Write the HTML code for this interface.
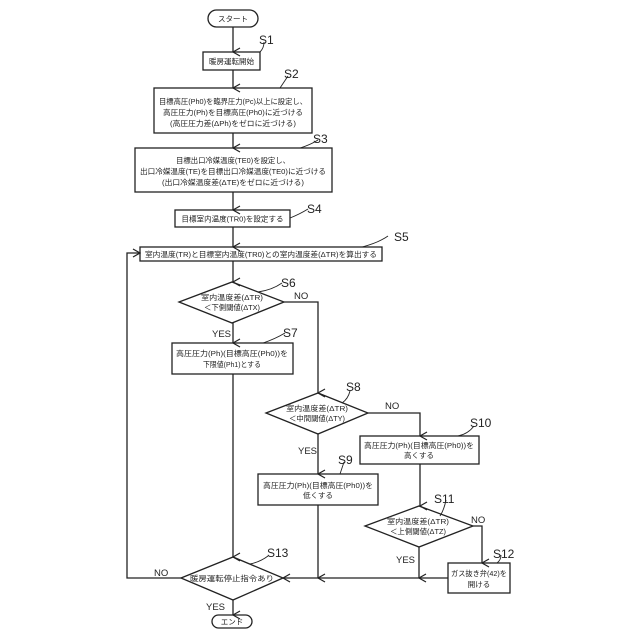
<!DOCTYPE html>
<html><head><meta charset="utf-8"><style>
html,body{margin:0;padding:0;background:#fff}
svg{display:block}
text{font-family:"Liberation Sans","Noto Sans CJK JP",sans-serif;fill:#222}
.t{font-size:7.5px;text-anchor:middle}
.s{font-size:12px}
.y{font-size:9.5px}
</style></head><body>
<svg width="640" height="640" viewBox="0 0 640 640" xmlns="http://www.w3.org/2000/svg">
<defs>
<marker id="a" markerWidth="10" markerHeight="10" refX="5" refY="9" orient="auto" markerUnits="userSpaceOnUse" viewBox="0 0 10 10">
<polyline points="1,2 5,9 9,2" fill="none" stroke="#222" stroke-width="1.2"/>
</marker>
<marker id="r" markerWidth="10" markerHeight="10" refX="9" refY="5" orient="0" markerUnits="userSpaceOnUse" viewBox="0 0 10 10">
<polyline points="2,1 9,5 2,9" fill="none" stroke="#222" stroke-width="1.2"/>
</marker>
<marker id="l" markerWidth="10" markerHeight="10" refX="1" refY="5" orient="0" markerUnits="userSpaceOnUse" viewBox="0 0 10 10">
<polyline points="8,1 1,5 8,9" fill="none" stroke="#222" stroke-width="1.2"/>
</marker>
</defs>
<g fill="none" stroke="#222" stroke-width="1.3">
<!-- shapes -->
<rect x="208" y="10" width="50" height="17" rx="8.5" fill="#fff"/>
<rect x="203" y="52" width="57" height="18" fill="#fff"/>
<rect x="154" y="88" width="158" height="45" fill="#fff"/>
<rect x="135" y="148" width="197" height="44" fill="#fff"/>
<rect x="175" y="210" width="115" height="17" fill="#fff"/>
<rect x="140" y="247" width="242" height="14" fill="#fff"/>
<polygon points="179,302 232,282 284,302 232,323" fill="#fff"/>
<rect x="172" y="343" width="121" height="31" fill="#fff"/>
<polygon points="266,413 318,393 368,413 318,434" fill="#fff"/>
<rect x="360" y="436" width="119" height="28" fill="#fff"/>
<rect x="258" y="474" width="120" height="31" fill="#fff"/>
<polygon points="365,526 419,506 473,526 419,547" fill="#fff"/>
<rect x="448" y="563" width="62" height="30" fill="#fff"/>
<polygon points="181,578 233,557 283,578 233,600" fill="#fff"/>
<rect x="212" y="615" width="40" height="13" rx="6.5" fill="#fff"/>
<!-- connectors -->
<line x1="233" y1="27" x2="233" y2="52" marker-end="url(#a)"/>
<line x1="233" y1="70" x2="233" y2="88" marker-end="url(#a)"/>
<line x1="233" y1="133" x2="233" y2="148" marker-end="url(#a)"/>
<line x1="233" y1="192" x2="233" y2="210" marker-end="url(#a)"/>
<line x1="233" y1="227" x2="233" y2="247" marker-end="url(#a)"/>
<line x1="233" y1="261" x2="233" y2="282" marker-end="url(#a)"/>
<line x1="233" y1="323" x2="233" y2="343" marker-end="url(#a)"/>
<line x1="233" y1="374" x2="233" y2="557" marker-end="url(#a)"/>
<polyline points="284,302 318,302 318,393" marker-end="url(#a)"/>
<polyline points="368,413 420,413 420,436" marker-end="url(#a)"/>
<line x1="318" y1="434" x2="318" y2="474" marker-end="url(#a)"/>
<line x1="318" y1="505" x2="318" y2="578" marker-end="url(#a)"/>
<line x1="420" y1="464" x2="420" y2="506" marker-end="url(#a)"/>
<line x1="419" y1="547" x2="419" y2="578" marker-end="url(#a)"/>
<polyline points="473,526 482,526 482,563" marker-end="url(#a)"/>
<line x1="448" y1="578" x2="283" y2="578" marker-end="url(#l)"/>
<polyline points="181,578 127,578 127,253 140,253" marker-end="url(#r)"/>
<line x1="233" y1="600" x2="233" y2="615" marker-end="url(#a)"/>
<!-- leader curves -->
<g stroke-width="0.9">
<path d="M260,52 q4,-4 4,-10"/>
<path d="M280,88 q4,-6 8,-12"/>
<path d="M300,148 q10,-3 18,-8"/>
<path d="M290,218 q10,-4 18,-9"/>
<path d="M362,247 q16,-4 26,-11"/>
<path d="M258,292 q14,-2 24,-9"/>
<path d="M263,343 q12,-4 22,-10"/>
<path d="M342,403 q6,-4 8,-12"/>
<path d="M340,474 q2,-6 4,-12"/>
<path d="M458,436 q10,-2 16,-10"/>
<path d="M440,516 q4,-6 6,-16"/>
<path d="M497,563 q4,-3 4,-8"/>
<path d="M250,564 q10,-2 18,-8"/>
</g>
</g>
<!-- text -->
<text class="t" x="233" y="21.5">スタート</text>
<text class="t" x="231.5" y="64">暖房運転開始</text>
<text class="t" x="233" y="104" textLength="148" lengthAdjust="spacingAndGlyphs">目標高圧(Ph0)を臨界圧力(Pc)以上に設定し、</text>
<text class="t" x="233" y="115" textLength="140" lengthAdjust="spacingAndGlyphs">高圧圧力(Ph)を目標高圧(Ph0)に近づける</text>
<text class="t" x="233" y="126" textLength="126" lengthAdjust="spacingAndGlyphs">(高圧圧力差(ΔPh)をゼロに近づける)</text>
<text class="t" x="233" y="163" textLength="114" lengthAdjust="spacingAndGlyphs">目標出口冷媒温度(TE0)を設定し、</text>
<text class="t" x="233" y="174" textLength="186" lengthAdjust="spacingAndGlyphs">出口冷媒温度(TE)を目標出口冷媒温度(TE0)に近づける</text>
<text class="t" x="233" y="185" textLength="142" lengthAdjust="spacingAndGlyphs">(出口冷媒温度差(ΔTE)をゼロに近づける)</text>
<text class="t" x="232.5" y="221.5" textLength="102" lengthAdjust="spacingAndGlyphs">目標室内温度(TR0)を設定する</text>
<text class="t" x="261" y="257" textLength="232" lengthAdjust="spacingAndGlyphs">室内温度(TR)と目標室内温度(TR0)との室内温度差(ΔTR)を算出する</text>
<text class="t" x="232" y="300" textLength="62" lengthAdjust="spacingAndGlyphs">室内温度差(ΔTR)</text>
<text class="t" x="232" y="310" textLength="56" lengthAdjust="spacingAndGlyphs">＜下側閾値(ΔTX)</text>
<text class="t" x="232" y="356" textLength="112" lengthAdjust="spacingAndGlyphs">高圧圧力(Ph)(目標高圧(Ph0))を</text>
<text class="t" x="232" y="367" textLength="58" lengthAdjust="spacingAndGlyphs">下限値(Ph1)とする</text>
<text class="t" x="317" y="411" textLength="62" lengthAdjust="spacingAndGlyphs">室内温度差(ΔTR)</text>
<text class="t" x="317" y="421" textLength="56" lengthAdjust="spacingAndGlyphs">＜中間閾値(ΔTY)</text>
<text class="t" x="419" y="448" textLength="110" lengthAdjust="spacingAndGlyphs">高圧圧力(Ph)(目標高圧(Ph0))を</text>
<text class="t" x="419" y="458">高くする</text>
<text class="t" x="318" y="488" textLength="110" lengthAdjust="spacingAndGlyphs">高圧圧力(Ph)(目標高圧(Ph0))を</text>
<text class="t" x="318" y="498">低くする</text>
<text class="t" x="418" y="524" textLength="62" lengthAdjust="spacingAndGlyphs">室内温度差(ΔTR)</text>
<text class="t" x="418" y="534" textLength="56" lengthAdjust="spacingAndGlyphs">＜上側閾値(ΔTZ)</text>
<text class="t" x="479" y="576" textLength="56" lengthAdjust="spacingAndGlyphs">ガス抜き弁(42)を</text>
<text class="t" x="479" y="587">開ける</text>
<text class="t" x="232" y="581" textLength="84" lengthAdjust="spacingAndGlyphs">暖房運転停止指令あり</text>
<text class="t" x="232" y="624.5">エンド</text>
<!-- labels -->
<text class="s" x="259" y="44">S1</text>
<text class="s" x="284" y="78">S2</text>
<text class="s" x="313" y="143">S3</text>
<text class="s" x="307" y="213">S4</text>
<text class="s" x="394" y="241">S5</text>
<text class="s" x="281" y="287">S6</text>
<text class="s" x="283" y="337">S7</text>
<text class="s" x="346" y="391">S8</text>
<text class="s" x="338" y="464">S9</text>
<text class="s" x="470" y="427">S10</text>
<text class="s" x="434" y="503">S11</text>
<text class="s" x="493" y="558">S12</text>
<text class="s" x="267" y="557">S13</text>
<text class="y" x="294" y="299">NO</text>
<text class="y" x="212" y="337">YES</text>
<text class="y" x="385" y="409">NO</text>
<text class="y" x="298" y="454">YES</text>
<text class="y" x="471" y="523">NO</text>
<text class="y" x="396" y="563">YES</text>
<text class="y" x="154" y="576">NO</text>
<text class="y" x="206" y="610">YES</text>
</svg>
</body></html>
